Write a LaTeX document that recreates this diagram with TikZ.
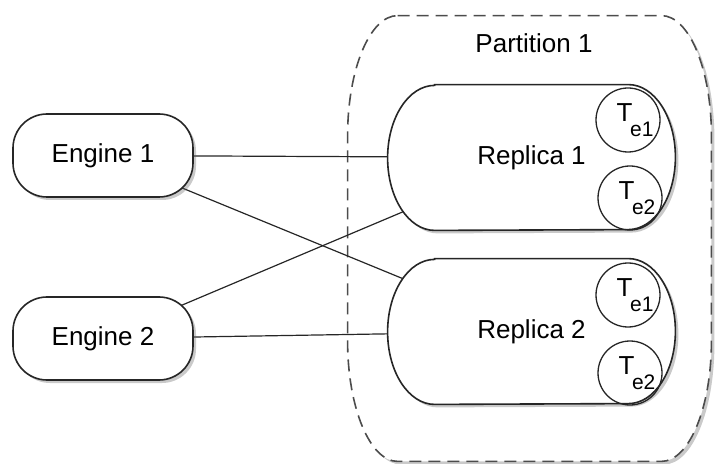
\documentclass[tikz,border=0pt]{standalone}
\usepackage{fontspec}
\setmainfont{Liberation Sans}
\usetikzlibrary{shadows,backgrounds}

% table label with lowered index
\newcommand{\tname}[1]{\hspace*{7pt}T\kern-1.2pt\raisebox{-7.5pt}{\fontsize{10.5}{12}\selectfont e#1}}

\begin{document}
\begin{tikzpicture}[x=0.5pt,y=-0.5pt,
    font=\fontsize{13}{15}\selectfont,
    softshadow/.style={drop shadow={shadow xshift=1.5pt, shadow yshift=-1.5pt, fill=black!60, opacity=0.35}},
    engine/.style={draw=black!85, line width=0.8pt, fill=white, rounded corners=17pt,
        minimum width=90pt, minimum height=41.5pt, softshadow},
    holder/.style={minimum width=143.5pt, minimum height=72.5pt, inner sep=0pt},
    outline/.style={draw=black!85, line width=0.8pt, fill=white, softshadow},
    part/.style={draw=black!70, line width=0.8pt, dash pattern=on 6pt off 3.5pt, fill=white, softshadow},
    table/.style={draw=black!85, line width=0.65pt, circle, minimum size=32pt, inner sep=0pt},
    link/.style={draw=black!85, line width=0.6pt}]
\useasboundingbox (0,0) rectangle (716,464);

% Engines
\node[engine] (engine1) at (103,155.5) {Engine 1};
\node[engine] (engine2) at (103,338.5) {Engine 2};

% Partition and its replicas
\node[minimum width=181.5pt, minimum height=222.5pt, inner sep=0pt] (partition) at (529.5,238.5) {};
\node (ptitle) at (534,43) {Partition 1};
\node[holder] (replica1) at (531.5,157.5) {Replica 1};
\node[holder] (replica2) at (531.5,331.5) {Replica 2};

% Tables
\node[table] (r1t1) at (628,120) {\tname{1}};
\node[table] (r1t2) at (630,198) {\tname{2}};
\node[table] (r2t1) at (628,295) {\tname{1}};
\node[table] (r2t2) at (630,373) {\tname{2}};

\begin{pgfonlayer}{background}
  % partition border
  \draw[part] ([xshift=25pt]partition.north west) -- ([xshift=-25pt]partition.north east)
      arc[start angle=90, end angle=0, x radius=25pt, y radius=60pt]
      -- ([yshift=60pt]partition.south east)
      arc[start angle=0, end angle=-90, x radius=25pt, y radius=60pt]
      -- ([xshift=25pt]partition.south west)
      arc[start angle=270, end angle=180, x radius=25pt, y radius=60pt]
      -- ([yshift=-60pt]partition.north west)
      arc[start angle=180, end angle=90, x radius=25pt, y radius=60pt]
      -- cycle;

  % links
  \draw[link] (engine1.center) -- (replica1.center);
  \draw[link] (engine1.center) -- (replica2.center);
  \draw[link] (engine2.center) -- (replica1.center);
  \draw[link] (engine2.center) -- (replica2.center);

  % replica borders
  \foreach \r in {replica1,replica2}
    \draw[outline] ([xshift=23.5pt]\r.north west) -- ([xshift=-23.5pt]\r.north east)
        arc[start angle=90, end angle=-90, x radius=23.5pt, y radius=36.25pt]
        -- ([xshift=23.5pt]\r.south west)
        arc[start angle=270, end angle=90, x radius=23.5pt, y radius=36.25pt]
        -- cycle;
\end{pgfonlayer}
\end{tikzpicture}
\end{document}
